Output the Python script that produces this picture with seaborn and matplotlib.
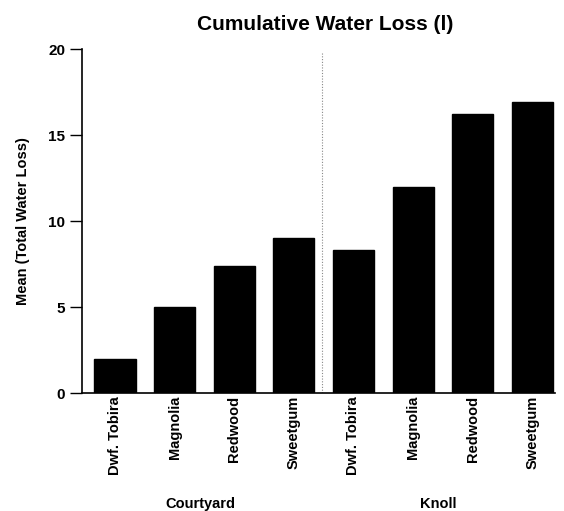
import matplotlib
matplotlib.use("Agg")
import matplotlib.pyplot as plt
import seaborn as sns
import pandas as pd

sites = ["Courtyard", "Knoll"]
species = ["Dwf. Tobira", "Magnolia", "Redwood", "Sweetgum"]
courtyard_values = [2.0, 5.0, 7.4, 9.0]
knoll_values = [8.3, 12.0, 16.2, 16.9]
yticks = [0, 5, 10, 15, 20]

rows = []
for site, vals in zip(sites, [courtyard_values, knoll_values]):
    for sp, v in zip(species, vals):
        rows.append({"key": f"{site}|{sp}", "site": site, "species": sp, "value": v})
df = pd.DataFrame(rows)

sns.set_theme(style="white")
plt.rcParams["font.family"] = ["Liberation Sans", "DejaVu Sans"]
plt.rcParams["text.color"] = "black"
plt.rcParams["axes.labelcolor"] = "black"
plt.rcParams["xtick.color"] = "black"
plt.rcParams["ytick.color"] = "black"

fig = plt.figure(figsize=(5.64, 5.11), dpi=100)
ax = fig.add_axes([82/564, 1-393/511, (555-82)/564, (393-49)/511])

sns.barplot(data=df, x="key", y="value", order=list(df["key"]), color="black",
            saturation=1, width=0.69, ax=ax, edgecolor="black")

ax.set_xlim(-0.553, 7.38)
ax.set_ylim(0, 20)
ax.set_yticks(yticks)
ax.set_yticklabels([str(t) for t in yticks], fontsize=11, fontweight="bold")
ax.set_xticks(range(len(df)))
ax.set_xticklabels(list(df["species"]), rotation=90, fontsize=10.5, fontweight="bold")
ax.tick_params(axis="y", direction="out", length=9, width=1, left=True, pad=3, colors="black")
ax.tick_params(axis="x", length=0, pad=2)
ax.set_xlabel("")
ax.set_ylabel("Mean (Total Water Loss)", fontsize=10.5, fontweight="bold", labelpad=13)

for s in ["top", "right"]:
    ax.spines[s].set_visible(False)
for s in ["left", "bottom"]:
    ax.spines[s].set_color("black")
    ax.spines[s].set_linewidth(1.2)

ax.axvline(3.47, ymin=0, ymax=0.99, color="#888888", linestyle=(0, (1, 1.5)), linewidth=0.8)

ax.set_title("Cumulative Water Loss (l)", fontsize=15, fontweight="bold", pad=14, x=0.515)

for xpos, name in zip([1.43, 5.43], sites):
    ax.text(xpos, -0.323, name, transform=ax.get_xaxis_transform(), ha="center", va="center",
            fontsize=10.5, fontweight="bold")

fig.savefig("out.png", dpi=100)
